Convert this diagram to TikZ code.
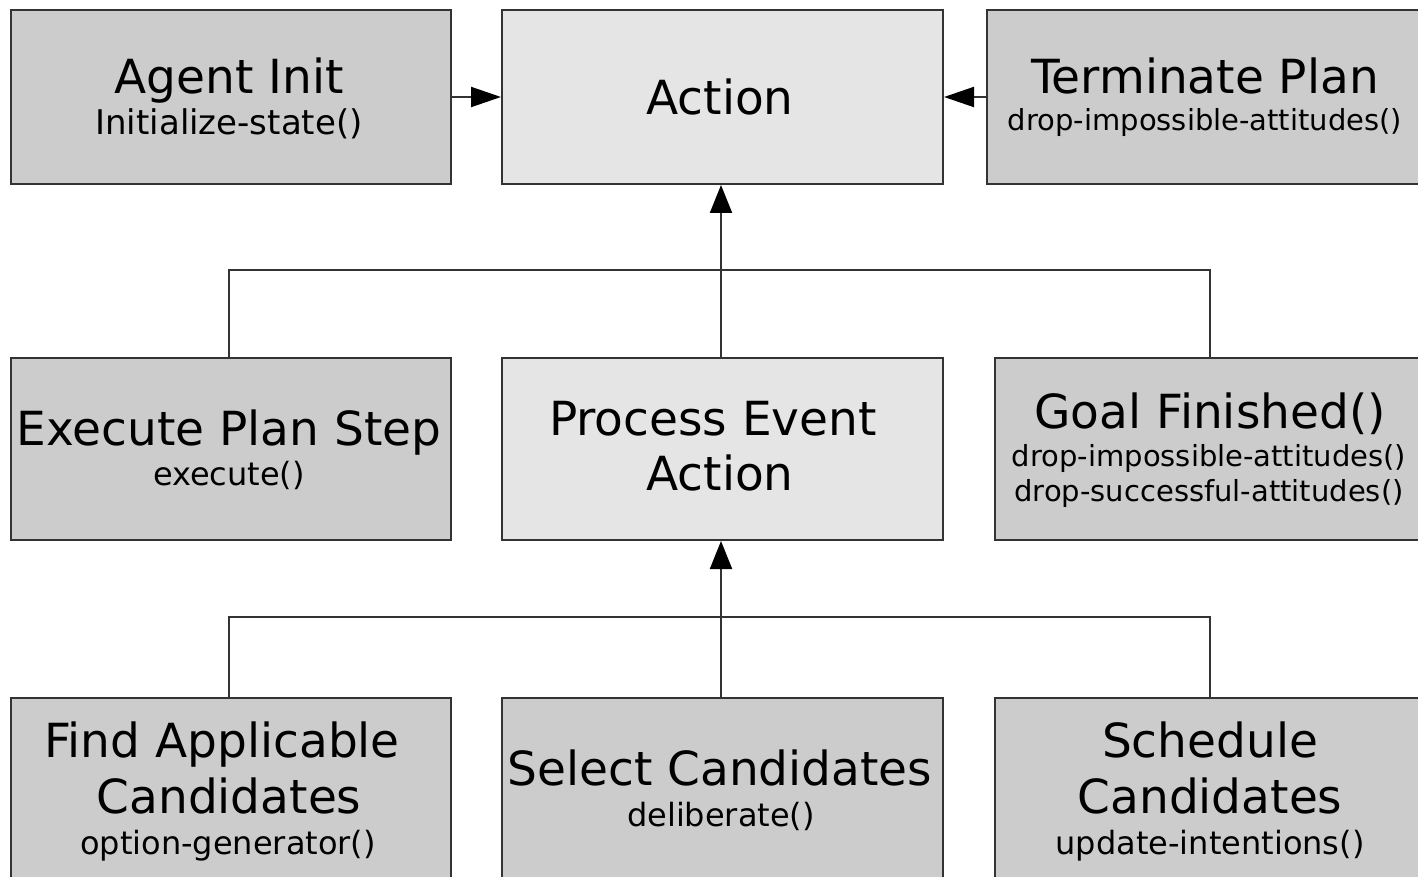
\documentclass[tikz,border=0pt]{standalone}
\usepackage{fontspec}
\setmainfont{DejaVu Sans}
\usetikzlibrary{arrows.meta}
\begin{document}
\begin{tikzpicture}[x=1pt,y=-1pt,
  box/.style={draw=black!80, line width=2pt, anchor=north west, inner sep=0pt},
  darkbox/.style={box, fill=black!20},
  lightbox/.style={box, fill=black!10},
  title/.style={anchor=base, font=\fontsize{47}{56}\selectfont, inner sep=0pt},
  sub/.style={anchor=base, font=\fontsize{32}{38}\selectfont, inner sep=0pt},
  subwide/.style={anchor=base, font=\fontsize{34}{40}\selectfont, inner sep=0pt},
  subsmall/.style={anchor=base, font=\fontsize{29}{35}\selectfont, inner sep=0pt},
  link/.style={draw=black!80, line width=2pt},
  harrow/.style={link, -{Triangle[length=30pt,width=20pt,black]}},
  varrow/.style={link, -{Triangle[length=28pt,width=22pt,black]}}]
\useasboundingbox (0,0) rectangle (1418,877);
\clip (0,0) rectangle (1418,877);

% top row
\node[darkbox, minimum width=440pt, minimum height=174pt] (init) at (10,9) {};
\node[lightbox, minimum width=441pt, minimum height=174pt] (action) at (501,9) {};
\node[darkbox, minimum width=440pt, minimum height=174pt] (term) at (986,9) {};

% middle row
\node[darkbox, minimum width=440pt, minimum height=182pt] (exec) at (10,357) {};
\node[lightbox, minimum width=441pt, minimum height=182pt] (proc) at (501,357) {};
\node[darkbox, minimum width=432pt, minimum height=182pt] (goal) at (994,357) {};

% bottom row
\node[darkbox, minimum width=440pt, minimum height=190pt] (find) at (10,697) {};
\node[darkbox, minimum width=441pt, minimum height=190pt] (select) at (501,697) {};
\node[darkbox, minimum width=432pt, minimum height=190pt] (sched) at (994,697) {};

% labels
\node[title] (initT) at (229,94) {Agent Init};
\node[subwide] (initS) at (229,135) {Initialize-state()};
\node[title] (actionT) at (720,115) {Action};
\node[title] (termT) at (1205,94) {Terminate Plan};
\node[subsmall] (termS) at (1205,131) {drop-impossible-attitudes()};

\node[title] (execT) at (229,445) {Execute Plan Step};
\node[sub] (execS) at (229,485) {execute()};
\node[title] (procT1) at (713,435) {Process Event};
\node[title] (procT2) at (720,490) {Action};
\node[title] (goalT) at (1210,428) {Goal Finished()};
\node[subsmall] (goalS1) at (1209,466) {drop-impossible-attitudes()};
\node[subsmall] (goalS2) at (1209,501) {drop-successful-attitudes()};

\node[title] (findT1) at (222,757) {Find Applicable};
\node[title] (findT2) at (229,813) {Candidates};
\node[sub] (findS) at (228,854) {option-generator()};
\node[title] (selT) at (720,785) {Select Candidates};
\node[sub] (selS) at (721,826) {deliberate()};
\node[title] (schT1) at (1210,757) {Schedule};
\node[title] (schT2) at (1210,813) {Candidates};
\node[sub] (schS) at (1210,854) {update-intentions()};

% bus junctions
\coordinate (bus1) at (721,270);
\coordinate (bus2) at (721,617);

% connectors
\draw[harrow] (init.east |- 0,97) -- (action.west |- 0,97);
\draw[harrow] (term.west |- 0,97) -- (action.east |- 0,97);
\draw[varrow] (proc.north -| bus1) -- (action.south -| bus1);
\draw[link] (exec.north -| 229,0) |- (bus1) -| (goal.north -| 1210,0);
\draw[varrow] (select.north -| bus2) -- (proc.south -| bus2);
\draw[link] (find.north -| 229,0) |- (bus2) -| (sched.north -| 1210,0);
\end{tikzpicture}
\end{document}
